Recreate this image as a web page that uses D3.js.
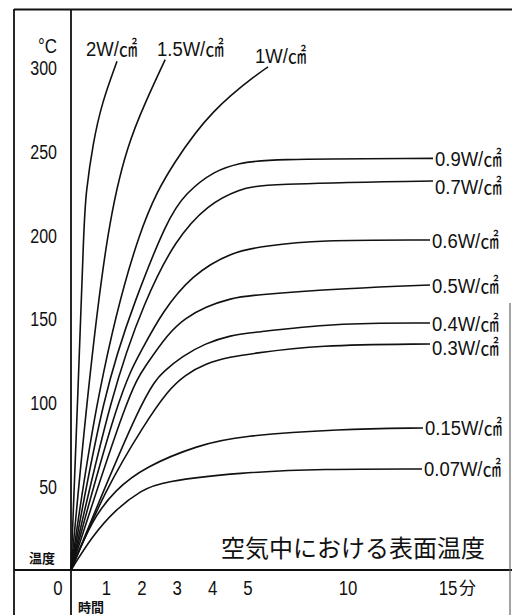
<!DOCTYPE html>
<html>
<head>
<meta charset="utf-8">
<script src="https://cdn.jsdelivr.net/npm/d3@7"></script>
<style>
  body { margin: 0; background: #fff; }
  svg { display: block; background: #fff; }
  text { font-family: 'Liberation Sans', 'Noto Sans CJK JP', sans-serif; fill: #111; }
  .jp { font-family: 'Noto Sans CJK JP', sans-serif; }
</style>
</head>
<body>
<svg id="chart" width="512" height="615"></svg>
<script>
// tick values / labels
const yTicks = [50, 100, 150, 200, 250, 300];
const xTicks = [1, 2, 3, 4, 5, 10, 15];

// curve labels (W/cm2)
const powerLabels = ['2W/㎠', '1.5W/㎠', '1W/㎠', '0.9W/㎠', '0.7W/㎠', '0.6W/㎠',
  '0.5W/㎠', '0.4W/㎠', '0.3W/㎠', '0.15W/㎠', '0.07W/㎠'];

// [minutes, degC]
const w200 = [[0,0],[0.2,107.6],[0.37,209],[0.42,225],[0.62,255],[0.87,279],[1.3,304]];
const w150 = [[0,0],[0.47,107.6],[1.05,209],[1.61,255],[2.09,279],[2.66,305]];
const w100 = [[0,0],[0.73,107.6],[1.95,209],[2.94,245],[3.98,275],[5.6,297.6],[6.0,300.6]];
const w090 = [[0,0],[0.93,107.6],[1.81,161.4],[2.71,209],[3.22,225],[4.07,239],[4.77,243],[5.75,245.6],[14.25,246]];
const w070 = [[0,0],[1.16,107.6],[2.09,161.4],[2.94,197.2],[3.87,218.7],[4.77,227.7],[5.75,230.7],[14.25,232.5]];
const w060 = [[0,0],[1.38,107.6],[2.0,131.5],[2.56,153.6],[3.41,176.3],[4.54,190.2],[5.85,193.6],[8.45,197.2],[14.1,197.2]];
const w050 = [[0,0],[1.65,107.6],[2.09,121.5],[2.75,141.5],[3.22,150.4],[3.79,157.4],[4.54,162.4],[5.1,164.3],[10.1,168.4],[14.1,170.3]];
const w040 = [[0,0],[2.09,107.6],[2.66,119.5],[3.13,127.5],[3.79,135.5],[4.54,140.4],[5.1,141.6],[9.25,147.6],[14.1,147.6]];
const w030 = [[0,0],[0.96,47.8],[2.09,87.7],[2.75,107.6],[3.22,116.5],[3.79,123.5],[4.54,127.5],[5.1,129.1],[8.45,134.5],[14.1,135.1]];
const w015 = [[0,0],[0.59,29.9],[1.24,47.8],[2.09,61.7],[3.6,74.7],[4.77,80.1],[9.6,84.3],[13.75,84.9]];
const w007 = [[0,0],[0.59,19.9],[1.24,35.9],[2.0,47.8],[2.56,52.8],[4.77,58.3],[8.75,60.4],[13.7,60.4]];

const curves = [w200, w150, w100, w090, w070, w060, w050, w040, w030, w015, w007];

const svg = d3.select('svg#chart');
const W = 512, H = 615;

// time axis is stretched for the first 5 minutes
const x = d3.scaleLinear().domain([0, 5, 15]).range([71, 248, 448]);
const y = d3.scaleLinear().domain([0, 300]).range([570, 68]);

// condensed look: squeeze text horizontally
const place = (sel, px, py, sx) =>
  sel.attr('transform', `translate(${px},${py}) scale(${sx},1)`);

// frame
const frame = svg.append('g').attr('stroke', '#111').attr('stroke-width', 1.8);
frame.append('line').attr('x1', 14).attr('x2', W).attr('y1', 9.5).attr('y2', 9.5);
frame.append('line').attr('x1', 14).attr('x2', 14).attr('y1', 9).attr('y2', H);
frame.append('line').attr('x1', x(0)).attr('x2', x(0)).attr('y1', 9).attr('y2', H);
frame.append('line').attr('x1', 14).attr('x2', W).attr('y1', y(0)).attr('y2', y(0));
frame.append('line').attr('x1', 510).attr('x2', 510).attr('y1', 303).attr('y2', H)
  .attr('stroke', '#666').attr('stroke-width', 1.2);

// y labels
svg.append('g').selectAll('text').data(yTicks).enter().append('text')
  .attr('text-anchor', 'end').attr('dy', '0.36em').style('font-size', '20px')
  .text(d => d)
  .each(function (d) { place(d3.select(this), 57, y(d), 0.8); });
place(svg.append('text').attr('text-anchor', 'end').style('font-size', '20px').text('°C'), 57, 53, 0.85);
svg.append('text').attr('class', 'jp').attr('x', 42).attr('y', 563)
  .attr('text-anchor', 'middle').style('font-size', '13px').style('font-weight', 'bold')
  .text('温度');

// x labels
const xl = svg.append('g');
place(xl.append('text').attr('text-anchor', 'middle').style('font-size', '21px').text('0'), 58, 595, 0.8);
xl.selectAll('text.tick').data(xTicks).enter().append('text')
  .attr('class', 'tick').attr('text-anchor', 'middle')
  .style('font-size', '21px').text(d => d)
  .each(function (d) { place(d3.select(this), x(d), 595, 0.8); });
xl.append('text').attr('class', 'jp').attr('x', x(15) + 11).attr('y', 594)
  .style('font-size', '17px').text('分');
svg.append('text').attr('class', 'jp').attr('x', 91).attr('y', 612)
  .attr('text-anchor', 'middle').style('font-size', '13px').style('font-weight', 'bold')
  .text('時間');

// curves
const line = d3.line()
  .x(d => x(d[0]))
  .y(d => y(d[1]))
  .curve(d3.curveBasis);

svg.append('g').selectAll('path').data(curves).enter().append('path')
  .attr('d', line)
  .attr('fill', 'none')
  .attr('stroke', '#111')
  .attr('stroke-width', 1.6);

// labels: top three sit above their curve ends, the rest at the right end
const topSpots = { '2W/㎠': [86, 56], '1.5W/㎠': [157, 56], '1W/㎠': [255, 63] };
const nudge = { '0.7W/㎠': 5, '0.3W/㎠': 4 };

svg.append('g').selectAll('text').data(curves).enter().append('text')
  .each(function (d, i) {
    const lab = powerLabels[i];
    const t = d3.select(this).style('font-size', '21px').text(lab);
    if (topSpots[lab]) {
      place(t, topSpots[lab][0], topSpots[lab][1], 0.88);
    } else {
      const last = d[d.length - 1];
      t.attr('dy', '0.36em');
      place(t, x(last[0]) + 2, y(last[1]) + (nudge[lab] || 0), 0.88);
    }
  });

// caption
svg.append('text').attr('class', 'jp')
  .attr('x', 221).attr('y', 557)
  .style('font-size', '24px')
  .text('空気中における表面温度');
</script>
</body>
</html>
